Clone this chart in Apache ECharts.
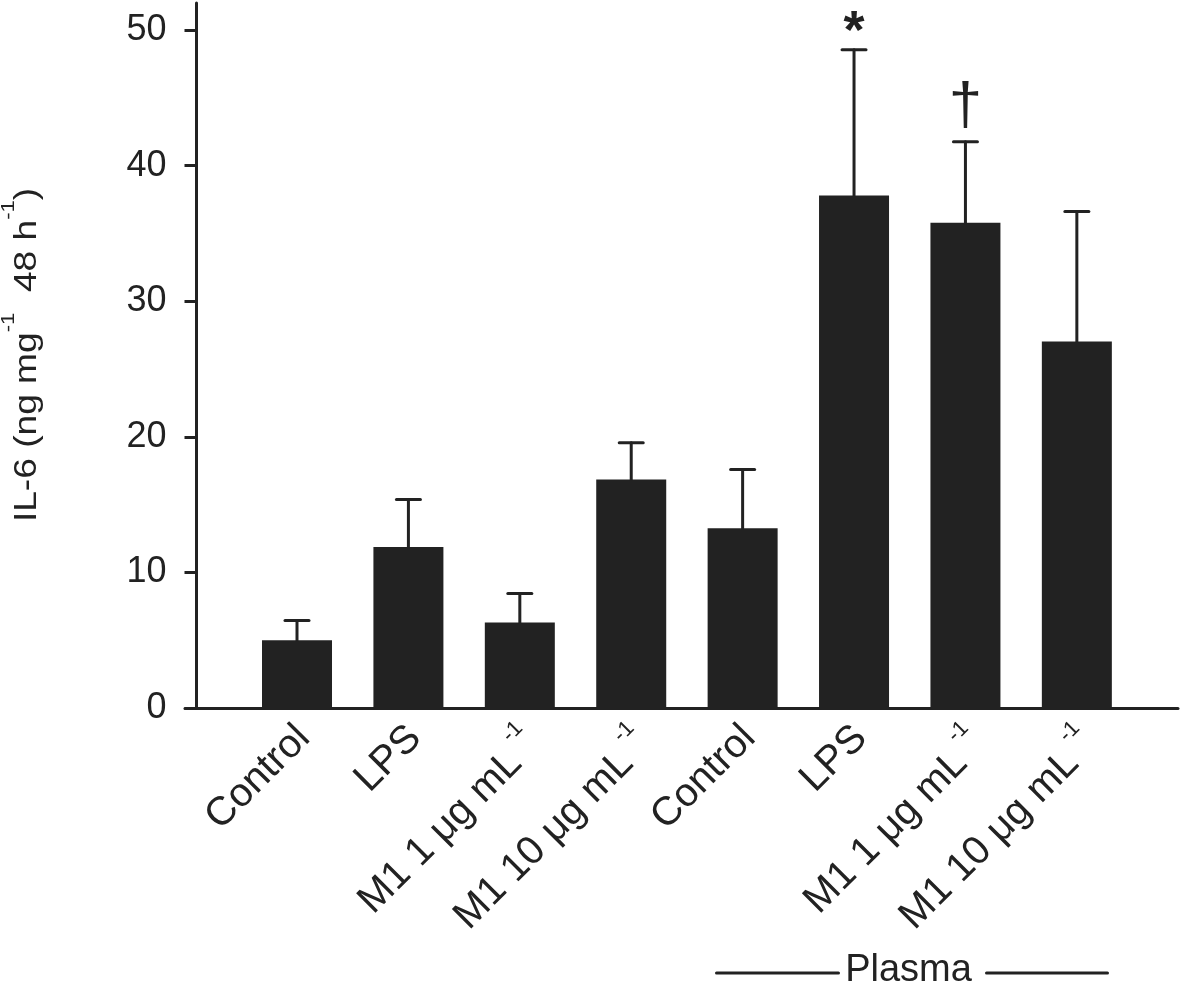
<!DOCTYPE html>
<html>
<head>
<meta charset="utf-8">
<script src="https://cdn.jsdelivr.net/npm/echarts@6/dist/echarts.min.js"></script>
<style>
html,body{margin:0;padding:0;background:#fff;}
#chart{width:1181px;height:986px;}
</style>
</head>
<body>
<div id="chart"></div>
<script>
// ---- data ----
const categories = ['Control', 'LPS', 'M1 1 \u03bcg mL', 'M1 10 \u03bcg mL', 'Control', 'LPS', 'M1 1 \u03bcg mL', 'M1 10 \u03bcg mL'];
const categorySup = ['', '', '-1', '-1', '', '', '-1', '-1'];
const means = [5.0, 11.88, 6.3, 16.85, 13.25, 37.8, 35.8, 27.03];
const errors = [1.45, 3.49, 2.15, 2.71, 4.34, 10.76, 5.97, 9.6];
const marks = ['', '', '', '', '', '*', '\u2020', ''];
const yTicks = [0, 10, 20, 30, 40, 50];
const yTitle = '{a|IL-6 (ng mg}{s|-1}{a|  48 h}{s|-1}{a|)}';
const groupLabel = 'Plasma';

const FONT = '"Liberation Sans", Arial, Helvetica, sans-serif';
const INK = '#222222';
const LABEL_NUDGE = 0.06; // small rightward nudge of rotated category labels (layout only)

const barData = means.map((v, i) => [i, v]);
const errData = means.map((v, i) => [i, v, v + errors[i], marks[i]]);

const chart = echarts.init(document.getElementById('chart'), null, {renderer: 'canvas'});

const option = {
  animation: false,
  backgroundColor: '#ffffff',
  grid: {left: 185, right: 3, top: 3, bottom: 278, containLabel: false, outerBoundsMode: 'none'},
  xAxis: {
    type: 'value',
    min: -1.0054,
    max: 7.908,
    splitLine: {show: false},
    axisTick: {show: false},
    axisLine: {show: true, onZero: false, lineStyle: {color: INK, width: 3}},
    axisLabel: {
      customValues: categories.map((c, i) => i + LABEL_NUDGE),
      rotate: 45,
      margin: 24,
      color: INK,
      fontFamily: FONT,
      fontSize: 40,
      formatter: function (v) {
        const i = Math.round(v);
        const main = categories[i] || '';
        const sup = categorySup[i];
        return sup ? '{ms|' + main + '}{s| ' + sup + '}' : '{m|' + main + '}';
      },
      rich: {
        m: {fontFamily: FONT, fontSize: 40, color: INK, lineHeight: 42},
        ms: {fontFamily: FONT, fontSize: 40, color: INK, lineHeight: 42, padding: [20, 0, 0, 0]},
        s: {fontFamily: FONT, fontSize: 22, color: INK, verticalAlign: 'top', lineHeight: 22}
      }
    }
  },
  yAxis: {
    type: 'value',
    min: 0,
    max: 52,
    offset: -11.5,
    splitLine: {show: false},
    axisLine: {show: true, onZero: false, lineStyle: {color: INK, width: 3}},
    axisTick: {show: true, customValues: yTicks, length: 12, lineStyle: {color: INK, width: 3}},
    axisLabel: {customValues: yTicks, margin: 30, color: INK, fontFamily: FONT, fontSize: 36}
  },
  series: [
    {
      type: 'bar',
      data: barData,
      barWidth: 70,
      itemStyle: {color: INK},
      z: 2
    },
    {
      type: 'custom',
      data: errData,
      z: 3,
      renderItem: function (params, api) {
        const x = api.value(0);
        const lo = api.coord([x, api.value(1)]);
        const hi = api.coord([x, api.value(2)]);
        const mark = marks[params.dataIndex];
        const half = 12;
        const style = {stroke: INK, lineWidth: 3, lineCap: 'round'};
        const children = [
          {type: 'line', shape: {x1: lo[0], y1: lo[1], x2: hi[0], y2: hi[1]}, style: style},
          {type: 'line', shape: {x1: hi[0] - half, y1: hi[1], x2: hi[0] + half, y2: hi[1]}, style: style}
        ];
        if (mark) {
          const isStar = mark === '*';
          children.push({
            type: 'text',
            style: {
              text: mark,
              x: hi[0],
              y: hi[1] - (isStar ? 17 : 34),
              align: 'center',
              verticalAlign: 'middle',
              fontFamily: FONT,
              fontWeight: isStar ? 'bold' : 'normal',
              fontSize: isStar ? 54 : 60,
              fill: INK
            }
          });
        }
        return {type: 'group', children: children};
      }
    }
  ],
  graphic: [
    {
      type: 'text',
      x: 27,
      y: 355,
      rotation: Math.PI / 2,
      scaleX: 1.16,
      style: {
        text: yTitle,
        align: 'center',
        verticalAlign: 'middle',
        rich: {
          a: {fontFamily: FONT, fontSize: 32, fill: INK, lineHeight: 56},
          s: {fontFamily: FONT, fontSize: 19, fill: INK, verticalAlign: 'top', lineHeight: 20}
        }
      }
    },
    {
      type: 'group',
      left: 714,
      top: 952,
      children: [
        {type: 'line', shape: {x1: 0, y1: 20, x2: 122, y2: 20}, style: {stroke: INK, lineWidth: 3, lineCap: 'round'}},
        {type: 'text', x: 192, y: 18, style: {text: groupLabel, align: 'center', verticalAlign: 'middle', fontFamily: FONT, fontSize: 38, fill: INK}},
        {type: 'line', shape: {x1: 270, y1: 20, x2: 391, y2: 20}, style: {stroke: INK, lineWidth: 3, lineCap: 'round'}}
      ]
    }
  ]
};

chart.setOption(option);
</script>
</body>
</html>
